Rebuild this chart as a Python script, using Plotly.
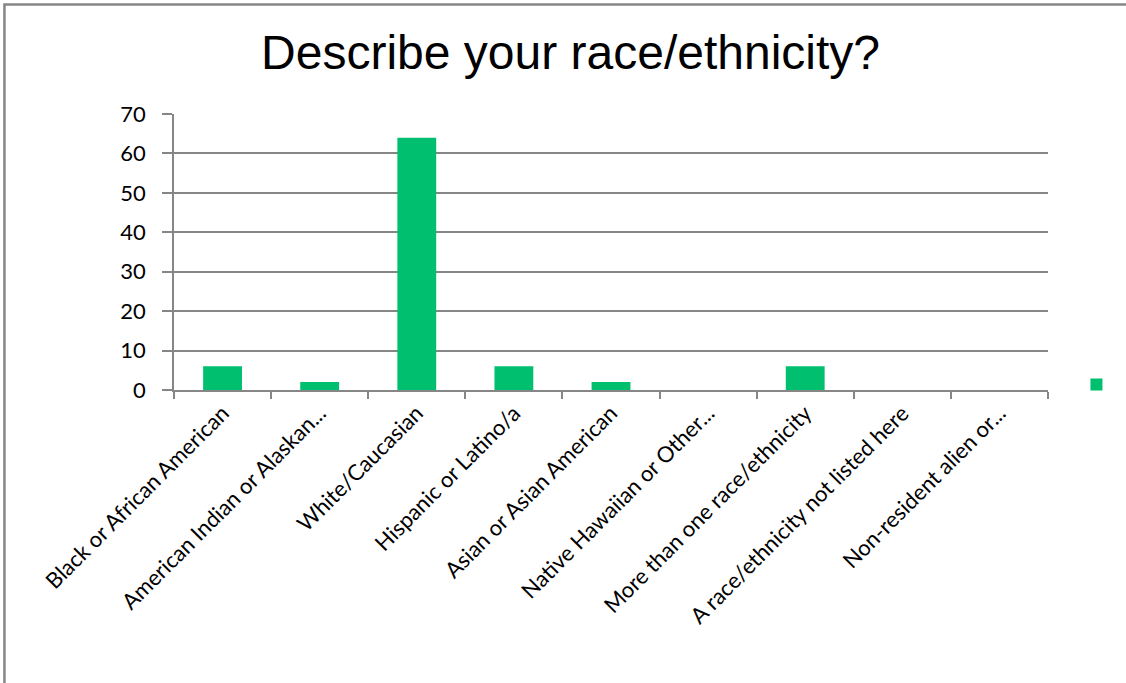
import plotly.graph_objects as go

# Survey answers: race / ethnicity
categories = [
    "Black or African American",
    "American Indian or Alaskan...",
    "White/Caucasian",
    "Hispanic or Latino/a",
    "Asian or Asian American",
    "Native Hawaiian or Other...",
    "More than one race/ethnicity",
    "A race/ethnicity not listed here",
    "Non-resident alien or...",
]
counts = [6, 2, 64, 6, 2, 0, 6, 0, 0]
y_ticks = [0, 10, 20, 30, 40, 50, 60, 70]

GREEN = "#00BF6F"
GRAY = "#868686"
TICK_FONT = dict(family="Lato, Carlito, Calibri, sans-serif", size=22, color="#000000")

fig = go.Figure()

fig.add_trace(go.Bar(
    x=categories,
    y=counts,
    name=" ",
    marker=dict(color=GREEN, line=dict(width=0)),
    showlegend=True,
))

fig.update_layout(
    width=1126,
    height=683,
    margin=dict(l=174, r=78, t=114, b=293, autoexpand=False),
    paper_bgcolor="white",
    plot_bgcolor="white",
    bargap=0.6,
    title=dict(
        text="Describe your race/ethnicity?",
        x=0.5067, xanchor="center",
        y=0.924, yanchor="middle",
        font=dict(family="Liberation Sans, Arial, sans-serif", size=48, color="#000000"),
    ),
    legend=dict(
        xref="container", yref="container",
        x=0.956, xanchor="left",
        y=0.437, yanchor="middle",
        font=dict(size=1, color="white"),
        bgcolor="rgba(0,0,0,0)",
    ),
    showlegend=True,
)

fig.update_xaxes(
    type="category",
    automargin=False,
    tickangle=-45,
    tickfont=TICK_FONT,
    showline=True, linecolor=GRAY, linewidth=1.5,
    ticks="outside", tickson="boundaries", ticklen=7, tickcolor=GRAY, tickwidth=1.5,
    showgrid=False,
)

fig.update_yaxes(
    range=[0, 70],
    automargin=False,
    tickvals=y_ticks,
    tickfont=TICK_FONT,
    ticklabelstandoff=12,
    showline=True, linecolor=GRAY, linewidth=1.5,
    ticks="outside", ticklen=10, tickcolor=GRAY, tickwidth=1.5,
    showgrid=True, gridcolor=GRAY, gridwidth=1.5,
    zeroline=False,
)

# outer chart frame (cropped on the right and bottom like the slide screenshot)
fig.add_shape(
    type="rect", xref="paper", yref="paper",
    x0=-0.194, x1=1.25, y0=-1.2, y1=1.397,
    line=dict(color=GRAY, width=2.5),
    fillcolor="rgba(0,0,0,0)",
    layer="below",
)

# drop the default page margin so the chart sits flush in the window
fig.write_html(
    "out.html",
    config={"displayModeBar": False},
    post_script="document.body.style.margin='0';",
)
